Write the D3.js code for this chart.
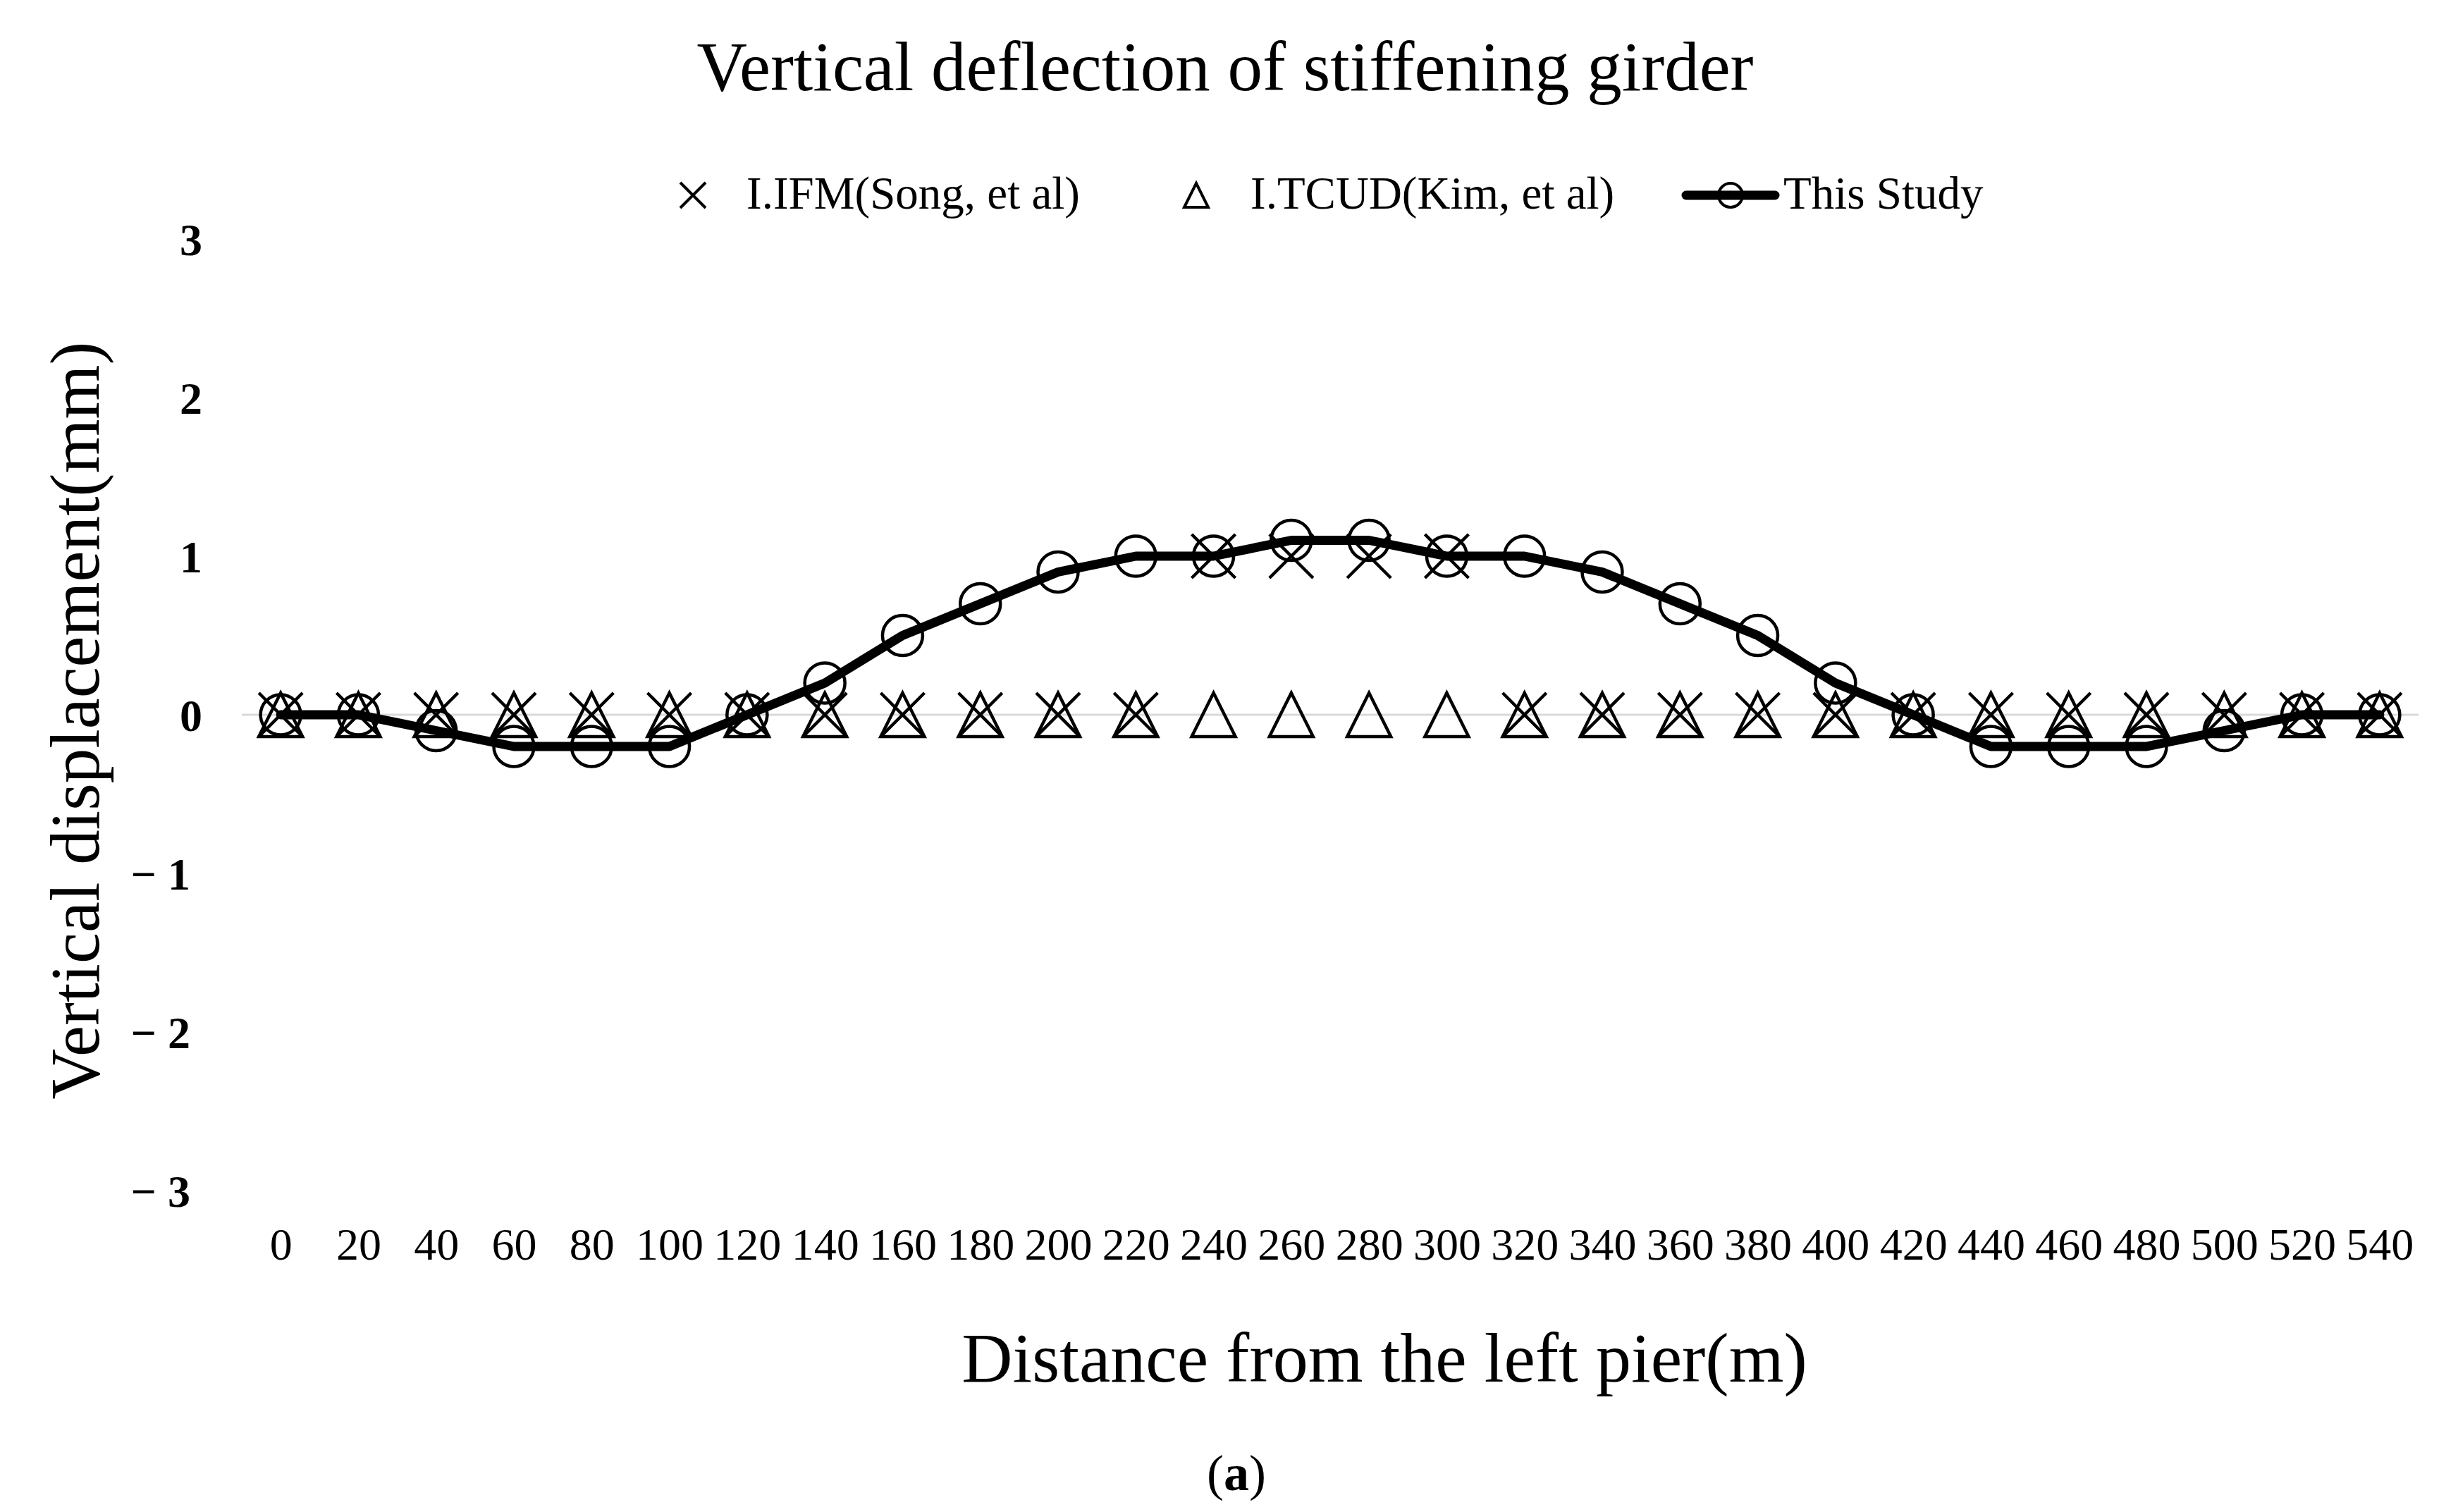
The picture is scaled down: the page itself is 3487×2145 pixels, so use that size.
<!DOCTYPE html>
<html>
<head>
<meta charset="utf-8">
<script src="https://cdn.jsdelivr.net/npm/d3@7"></script>
<style>
  body { margin: 0; background: #fff; }
  text { font-family: "Liberation Serif", "Times New Roman", serif; fill: #000; }
</style>
</head>
<body>
<div id="chart"></div>
<script>
// distance from the left pier (m)
const distances = [0, 20, 40, 60, 80, 100, 120, 140, 160, 180, 200, 220, 240, 260,
  280, 300, 320, 340, 360, 380, 400, 420, 440, 460, 480, 500, 520, 540];

// vertical displacement (mm)
const ifmSong = [0, 0, 0, 0, 0, 0, 0, 0, 0, 0, 0, 0, 1.0, 1.0,
  1.0, 1.0, 0, 0, 0, 0, 0, 0, 0, 0, 0, 0, 0, 0];
const tcudKim = [0, 0, 0, 0, 0, 0, 0, 0, 0, 0, 0, 0, 0, 0,
  0, 0, 0, 0, 0, 0, 0, 0, 0, 0, 0, 0, 0, 0];
const thisStudy = [0, 0, -0.1, -0.2, -0.2, -0.2, 0, 0.2, 0.5, 0.7, 0.9, 1.0, 1.0, 1.1,
  1.1, 1.0, 1.0, 0.9, 0.7, 0.5, 0.2, 0, -0.2, -0.2, -0.2, -0.1, 0, 0];

const yTicks = [-3, -2, -1, 0, 1, 2, 3];
const seriesNames = ["I.IFM(Song, et al)", "I.TCUD(Kim, et al)", "This Study"];

const width = 3487;
const height = 2145;

const svg = d3.select("#chart")
  .append("svg")
  .attr("width", width)
  .attr("height", height);

const x = d3.scalePoint()
  .domain(distances)
  .range([343, 3431])
  .padding(0.5);

const y = d3.scaleLinear()
  .domain([-3, 3])
  .range([1689, 339]);

// marker shapes
const crossPath = (h) => `M${-h},${-h}L${h},${h}M${-h},${h}L${h},${-h}`;
const triPath = (h) => `M0,${-h}L${h},${h}L${-h},${h}Z`;

// title
svg.append("text")
  .attr("x", 1738)
  .attr("y", 128)
  .attr("text-anchor", "middle")
  .style("font-size", "99px")
  .text("Vertical deflection of stiffening girder");

// zero line
svg.append("line")
  .attr("x1", 343)
  .attr("x2", 3431)
  .attr("y1", y(0))
  .attr("y2", y(0))
  .attr("stroke", "#d9d9d9")
  .attr("stroke-width", 3);

// y axis
const yAxis = svg.append("g")
  .attr("transform", "translate(287,0)")
  .call(d3.axisLeft(y)
    .tickValues(yTicks)
    .tickSize(0)
    .tickPadding(0)
    .tickFormat(d => d < 0 ? "\u2212 " + Math.abs(d) : String(d)));
yAxis.select(".domain").remove();
yAxis.selectAll("text")
  .attr("x", d => d < 0 ? -17 : 0)
  .attr("dy", "0.35em")
  .style("font-family", "'Liberation Serif', serif")
  .style("font-weight", "bold")
  .style("font-size", "64px");

// x axis
const xAxis = svg.append("g")
  .attr("transform", "translate(0,1787)")
  .call(d3.axisBottom(x).tickSize(0));
xAxis.select(".domain").remove();
xAxis.selectAll("text")
  .attr("y", 0)
  .attr("dy", 0)
  .style("font-family", "'Liberation Serif', serif")
  .style("font-size", "64px");

// axis titles
svg.append("text")
  .attr("transform", "translate(140,1022) rotate(-90)")
  .attr("text-anchor", "middle")
  .style("font-size", "99px")
  .text("Vertical displacement(mm)");

svg.append("text")
  .attr("x", 1964)
  .attr("y", 1960)
  .attr("text-anchor", "middle")
  .style("font-size", "100px")
  .text("Distance from the left pier(m)");

const caption = svg.append("text")
  .attr("x", 1754)
  .attr("y", 2114)
  .attr("text-anchor", "middle")
  .style("font-size", "72px");
caption.append("tspan").text("(");
caption.append("tspan").style("font-weight", "bold").text("a");
caption.append("tspan").text(")");

const plot = svg.append("g");

// I.IFM crosses
plot.selectAll("path.ifm")
  .data(distances.map((d, i) => [d, ifmSong[i]]))
  .join("path")
  .attr("class", "ifm")
  .attr("transform", d => `translate(${x(d[0])},${y(d[1])})`)
  .attr("d", crossPath(31))
  .attr("fill", "none")
  .attr("stroke", "#000")
  .attr("stroke-width", 4.5);

// I.TCUD triangles
plot.selectAll("path.tcud")
  .data(distances.map((d, i) => [d, tcudKim[i]]))
  .join("path")
  .attr("class", "tcud")
  .attr("transform", d => `translate(${x(d[0])},${y(d[1])})`)
  .attr("d", triPath(31))
  .attr("fill", "none")
  .attr("stroke", "#000")
  .attr("stroke-width", 4.5)
  .attr("stroke-linejoin", "miter");

// This Study line + circles
const line = d3.line()
  .x((d, i) => x(distances[i]))
  .y(d => y(d));

plot.append("path")
  .datum(thisStudy)
  .attr("d", line)
  .attr("fill", "none")
  .attr("stroke", "#000")
  .attr("stroke-width", 13)
  .attr("stroke-linejoin", "round")
  .attr("stroke-linecap", "round");

plot.selectAll("circle.study")
  .data(distances.map((d, i) => [d, thisStudy[i]]))
  .join("circle")
  .attr("class", "study")
  .attr("cx", d => x(d[0]))
  .attr("cy", d => y(d[1]))
  .attr("r", 28.5)
  .attr("fill", "none")
  .attr("stroke", "#000")
  .attr("stroke-width", 4.5);

// legend
const legend = svg.append("g");
const ly = 277;

legend.append("path")
  .attr("transform", `translate(983,${ly})`)
  .attr("d", crossPath(18))
  .attr("fill", "none")
  .attr("stroke", "#000")
  .attr("stroke-width", 4);
legend.append("text")
  .attr("x", 1059)
  .attr("y", ly + 19)
  .style("font-size", "65px")
  .text(seriesNames[0]);

legend.append("path")
  .attr("transform", `translate(1697,${ly})`)
  .attr("d", triPath(17))
  .attr("fill", "none")
  .attr("stroke", "#000")
  .attr("stroke-width", 4);
legend.append("text")
  .attr("x", 1774)
  .attr("y", ly + 19)
  .style("font-size", "65px")
  .text(seriesNames[1]);

legend.append("line")
  .attr("x1", 2392)
  .attr("x2", 2518)
  .attr("y1", ly)
  .attr("y2", ly)
  .attr("stroke", "#000")
  .attr("stroke-width", 13)
  .attr("stroke-linecap", "round");
legend.append("circle")
  .attr("cx", 2455)
  .attr("cy", ly)
  .attr("r", 17)
  .attr("fill", "none")
  .attr("stroke", "#000")
  .attr("stroke-width", 4);
legend.append("text")
  .attr("x", 2530)
  .attr("y", ly + 19)
  .style("font-size", "65px")
  .text(seriesNames[2]);
</script>
</body>
</html>
